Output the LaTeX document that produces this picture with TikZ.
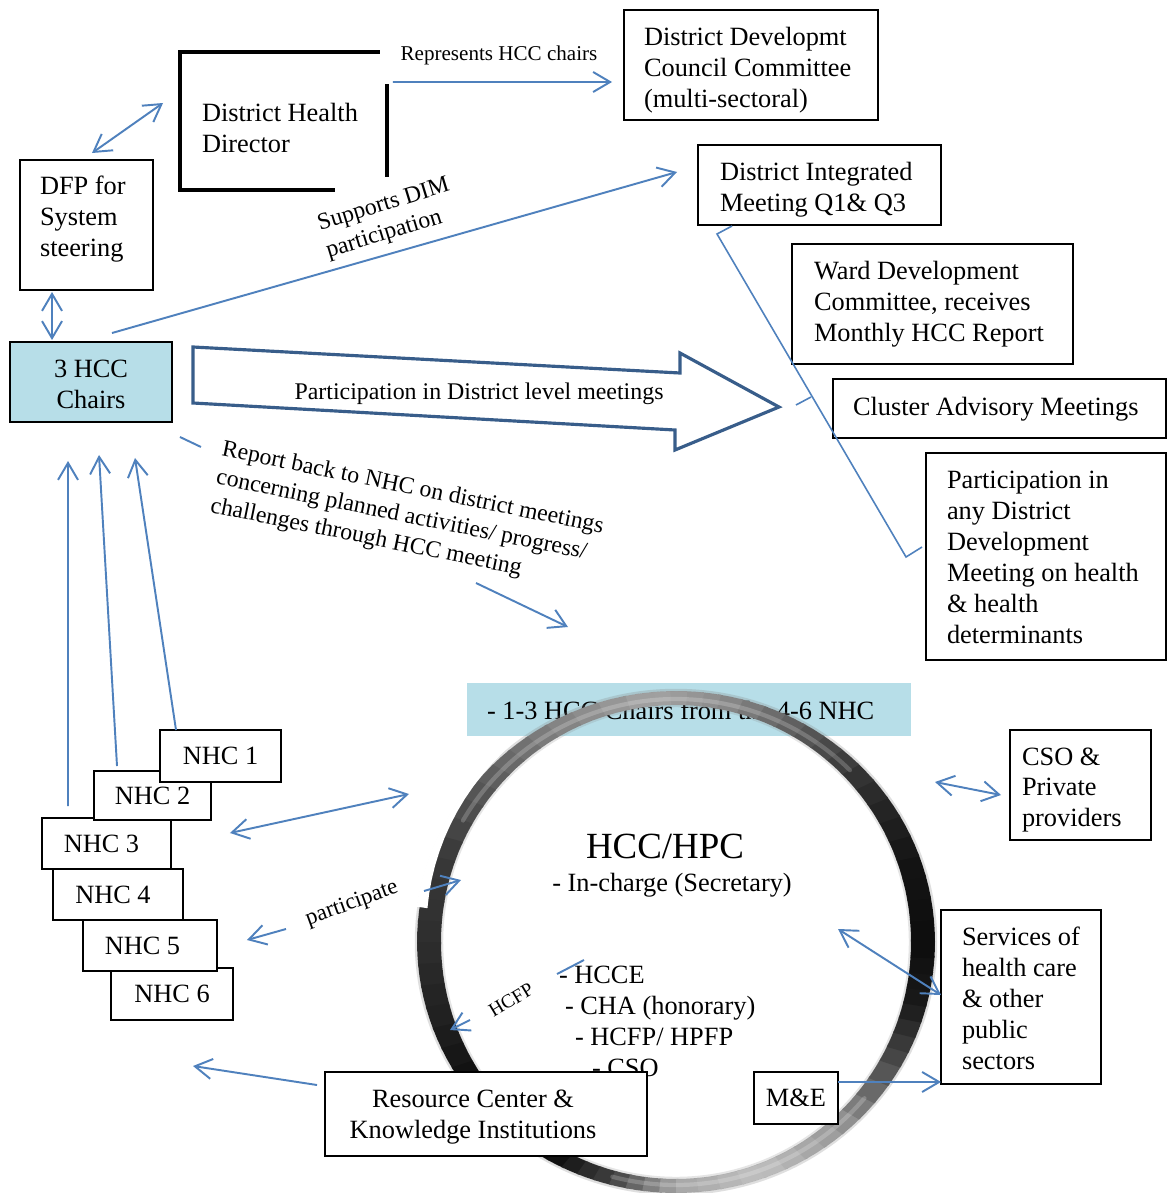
\documentclass[tikz,border=0pt]{standalone}
\usepackage{fontspec}
\setmainfont{Liberation Serif}
\usetikzlibrary{arrows.meta,calc}
\definecolor{linkblue}{RGB}{79,129,189}
\definecolor{blockedge}{RGB}{56,93,138}
\definecolor{chairfill}{RGB}{183,222,232}

\begin{document}
\begin{tikzpicture}[x=0.02cm, y=-0.02cm,
  box/.style={draw=black, line width=1.2pt, fill=white, inner sep=0pt, outer sep=0pt,
              font=\fontsize{15}{17.6}\selectfont},
  body/.style={font=\fontsize{15}{17.6}\selectfont, inner sep=0pt, outer sep=0pt, align=left},
  link/.style={draw=linkblue, line width=1.1pt},
  frame/.style={draw=black, line width=2.4pt},
  headto/.style={-{Straight Barb[length=0.34cm,width=0.40cm]}},
  headboth/.style={{Straight Barb[length=0.34cm,width=0.40cm]}-{Straight Barb[length=0.34cm,width=0.40cm]}},
]

\path[use as bounding box, fill=white] (0,0) rectangle (1168,1193);

% ---------- banner behind the ring ----------
\node[fill=chairfill, minimum width=8.88cm, minimum height=1.06cm, inner sep=0pt] (banner) at (689,709.5) {};
\node[body, anchor=base west] (bannertext) at (487,719) {- 1-3 HCC Chairs from the 4-6 NHC};

% ---------- metallic ring ----------
\coordinate (ringc) at (676,942);
\foreach \a/\ga/\b/\gb in {0/5/20/8, 20/8/40/18, 40/18/60/35, 60/35/80/55, 80/55/95/64,
    95/64/120/50, 120/50/140/35, 140/35/160/22, 160/22/180/18, 180/18/200/12, 200/12/220/4,
    220/4/240/4, 240/4/255/25, 255/25/270/65, 270/65/290/75, 290/75/310/60, 310/60/330/30,
    330/30/345/10, 345/10/360/5}{
  \foreach \k in {0,1,2,3}{
    \pgfmathsetmacro\angA{\a+(\b-\a)*\k/4}
    \pgfmathsetmacro\angB{\a+(\b-\a)*(\k+1)/4+0.6}
    \pgfmathsetmacro\greyv{\ga+(\gb-\ga)*(\k+0.5)/4}
    \fill[white!\greyv!black]
      plot[domain=\angA:\angB, samples=3, variable=\t] ({676+259*cos(\t)},{942-251*sin(\t)})
      -- plot[domain=\angB:\angA, samples=3, variable=\t] ({676+235*cos(\t)},{942-237*sin(\t)})
      -- cycle;
  }
}
% sheen along the lit parts of the band, and soft rims
\draw[white, opacity=0.2, line width=2.4pt, line cap=round]
  plot[smooth, domain=45:150, samples=60, variable=\t] ({676+246*cos(\t)},{942-243*sin(\t)});
\draw[white, opacity=0.2, line width=2.4pt, line cap=round]
  plot[smooth, domain=255:320, samples=40, variable=\t] ({676+246*cos(\t)},{942-243*sin(\t)});
\draw[gray, opacity=0.25, line width=1.4pt] (ringc) ellipse [x radius=260, y radius=252];
\draw[gray, opacity=0.20, line width=1.4pt] (ringc) ellipse [x radius=234, y radius=236];
% step in the band on the left
\fill[white]
  plot[domain=128:172, samples=14, variable=\t] ({676+262*cos(\t)},{942-254*sin(\t)})
  -- plot[domain=172:128, samples=14, variable=\t]
     ({676+(262-11*(\t-128)/44)*cos(\t)},{942-(254-11*(\t-128)/44)*sin(\t)})
  -- cycle;

% ---------- contents of the ring ----------
\node[font=\fontsize{21}{24}\selectfont, inner sep=0pt, anchor=base] (hcctitle) at (665,858) {HCC/HPC};
\node[body, anchor=base] (incharge) at (672,891) {- In-charge (Secretary)};
\node[body, anchor=base west] (m1) at (559,983) {- HCCE};
\node[body, anchor=base west] (m2) at (565,1014) {- CHA (honorary)};
\node[body, anchor=base west] (m3) at (575,1045) {- HCFP/ HPFP};
\node[body, anchor=base west] (m4) at (592,1076) {- CSO};

% ---------- boxes ----------
\node[box, minimum width=6.44cm, minimum height=1.68cm] (rc) at (486,1114) {};
\node[body, align=center] (rctext) at ($(rc.center)+(-13,3)$) {Resource Center \&\\Knowledge Institutions};
\node[box, minimum width=1.68cm, minimum height=1.04cm] (me) at (796,1098) {M\&E};

\node[box, minimum width=2.66cm, minimum height=2.60cm] (dfp) at (86.5,225) {};
\node[body, anchor=west] (dfptext) at ($(dfp.west)+(20,-6)$) {DFP for\\System\\steering};

\node[box, fill=chairfill, minimum width=3.24cm, minimum height=1.60cm, align=center] (hcc) at (91,382) {};
\node[body, align=center] (hcctext) at ($(hcc.center)+(0,2)$) {3 HCC\\Chairs};

\node[inner sep=0pt, outer sep=0pt, minimum width=4.14cm, minimum height=2.76cm] (dhd) at (283.5,121) {};
\node[body, anchor=west] (dhdtext) at ($(dhd.west)+(22,7)$) {District Health\\Director};
\draw[frame] ($(dhd.north east)+(-7,0)$) -- (dhd.north west) -- (dhd.south west) -- ($(dhd.south east)+(-52,0)$);
\draw[frame] ($(dhd.north east)+(0,32)$) -- ($(dhd.south east)+(0,-13)$);

\node[box, minimum width=5.08cm, minimum height=2.20cm] (ddcc) at (751,65) {};
\node[body, anchor=west] (ddcctext) at ($(ddcc.west)+(20,5)$) {District Developmt\\Council Committee\\(multi-sectoral)};

\node[box, minimum width=4.86cm, minimum height=1.60cm] (dim) at (819.5,185) {};
\node[body, anchor=west] (dimtext) at ($(dim.west)+(22,5)$) {District Integrated\\Meeting Q1\& Q3};

\node[box, minimum width=5.62cm, minimum height=2.40cm] (wdc) at (932.5,304) {};
\node[body, anchor=west] (wdctext) at ($(wdc.west)+(22,0)$) {Ward Development\\Committee, receives\\Monthly HCC Report};

\node[box, minimum width=6.66cm, minimum height=1.18cm] (cam) at (999.5,408.5) {};
\node[body, anchor=west] (camtext) at ($(cam.west)+(20,1)$) {Cluster Advisory Meetings};

\node[box, minimum width=4.80cm, minimum height=4.14cm] (pddm) at (1046,556.5) {};
\node[body, anchor=west] (pddmtext) at ($(pddm.west)+(21,1)$)
  {Participation in\\any District\\Development\\Meeting on health\\\& health\\determinants};

\node[box, minimum width=2.82cm, minimum height=2.20cm] (cso) at (1080.5,785) {};
\node[body, anchor=west] (csotext) at ($(cso.west)+(12,5)$) {CSO \&\\Private\\providers};

\node[box, minimum width=3.20cm, minimum height=3.48cm] (services) at (1021,997) {};
\node[body, anchor=west] (servicestext) at ($(services.west)+(21,1)$)
  {Services of\\health care\\\& other\\public\\sectors};

% stacked NHC boxes, lower numbers on top
\node[box, minimum width=2.44cm, minimum height=1.04cm] (nhc6) at (172,994) {NHC 6};
\node[box, minimum width=2.68cm, minimum height=1.02cm] (nhc5) at (150,945.5) {\hspace*{-0.3cm}NHC 5};
\node[box, minimum width=2.60cm, minimum height=1.02cm] (nhc4) at (118,894.5) {\hspace*{-0.2cm}NHC 4};
\node[box, minimum width=2.58cm, minimum height=1.02cm] (nhc3) at (106.5,843.5) {\hspace*{-0.2cm}NHC 3};
\node[box, minimum width=2.34cm, minimum height=0.98cm] (nhc2) at (152.5,795.5) {NHC 2};
\node[box, minimum width=2.42cm, minimum height=1.04cm] (nhc1) at (220.5,756) {NHC 1};

% ---------- block arrow towards the district meetings ----------
\coordinate (ba1) at (193,347);
\coordinate (ba2) at (680,373);
\coordinate (ba3) at (680,353);
\coordinate (ba4) at (779,407);
\coordinate (ba5) at (675,450);
\coordinate (ba6) at (675,430);
\coordinate (ba7) at (193,403);
\draw[blockedge, line width=1.8pt, line join=miter]
  (ba1) -- (ba2) -- (ba3) -- (ba4) -- (ba5) -- (ba6) -- (ba7) -- cycle;
\node[font=\fontsize{13.6}{16}\selectfont, inner sep=0pt] (partlabel) at (479,394)
  {Participation in District level meetings};

% bracket grouping the district meetings
\coordinate (br1) at ($(dim.south west)+(34,1)$);
\coordinate (br2) at ($(dim.south west)+(19,9)$);
\coordinate (br3) at ($(pddm.west)+(-20,0.5)$);
\coordinate (br4) at ($(pddm.west)+(-4,-9.5)$);
\draw[link, line width=0.9pt] (br1) -- (br2) -- (br3) -- (br4);
\coordinate (brtick) at (811,397);
\draw[link, line width=0.9pt] ($(ba4)+(17,-2)$) -- (brtick);

% ---------- connectors ----------
\draw[link, headboth] ($(dfp.north)+(5.5,-7)$) -- ($(dhd.west)+(-17,-18)$);
\draw[link, headboth] ($(dfp.south west)+(32,2)$) -- ($(hcc.north west)+(42,-2)$);
\draw[link, headto] ($(hcc.north)+(21,-9)$) -- ($(dim.west)+(-21,-13)$);
\node[font=\fontsize{13.5}{16.2}\selectfont, align=left, inner sep=0pt, rotate=17] (suplabel) at (388,219)
  {Supports DIM\\participation};

\draw[link, headto] ($(dhd.north east)+(6,30)$) -- ($(ddcc.west)+(-12,17)$);
\node[font=\fontsize{12}{14}\selectfont, inner sep=0pt] (replabel) at (499,55) {Represents HCC chairs};

% report back to the NHC
\draw[link] ($(hcc.south east)+(8,15)$) -- ($(hcc.south east)+(29,25)$);
\coordinate (reportend) at ($(ringc)+(-108,-315)$);
\draw[link, headto] ($(ringc)+(-200,-359)$) -- (reportend);
\node[font=\fontsize{13.5}{16.4}\selectfont, align=left, inner sep=0pt, rotate=-11.5] (reportlabel) at (407,517)
  {Report back to NHC on district meetings\\concerning planned activities/ progress/\\challenges through HCC meeting};

% NHC up to the chairs
\draw[link, headto] ($(nhc3.north west)+(26,-12)$) -- ($(hcc.south west)+(58,39)$);
\draw[link, headto] ($(nhc2.north west)+(23,-5)$) -- ($(hcc.south west)+(89,33)$);
\draw[link, headto] ($(nhc1.north west)+(16,0)$) -- ($(hcc.south west)+(125,36)$);

% NHC and the committee
\draw[link, headboth] ($(nhc1.south east)+(-51,51)$) -- ($(ringc)+(-267,-148)$);
\draw[link, headto] ($(nhc5.east)+(69,-16.5)$) -- ($(nhc5.east)+(30,-5.5)$);
\draw[link, headto] ($(ringc)+(-252,-51)$) -- ($(ringc)+(-215,-62)$);
\node[font=\fontsize{13}{15}\selectfont, inner sep=0pt, rotate=20] (participlabel) at (352,904) {participate};

% HCFP link
\draw[link] ($(ringc)+(-92,18)$) -- ($(ringc)+(-119,32)$);
\draw[link, headto] ($(ringc)+(-206,78)$) -- ($(ringc)+(-226,88)$);
\node[font=\fontsize{11}{13}\selectfont, inner sep=0pt, rotate=31] (hcfplabel) at (511,1000) {HCFP};

% partners on the right
\draw[link, headboth] ($(ringc)+(162,-13)$) -- ($(services.west)+(0,-2)$);
\draw[link, headboth] ($(ringc)+(259,-160)$) -- ($(cso.west)+(-9,10)$);
\draw[link, headto] ($(me.east)+(0,-16)$) -- ($(services.south west)+(0,-2)$);

% resource centre
\coordinate (rcout) at (193,1066);
\draw[link, headto] ($(rc.north west)+(-8,13)$) -- (rcout);

\end{tikzpicture}
\end{document}
